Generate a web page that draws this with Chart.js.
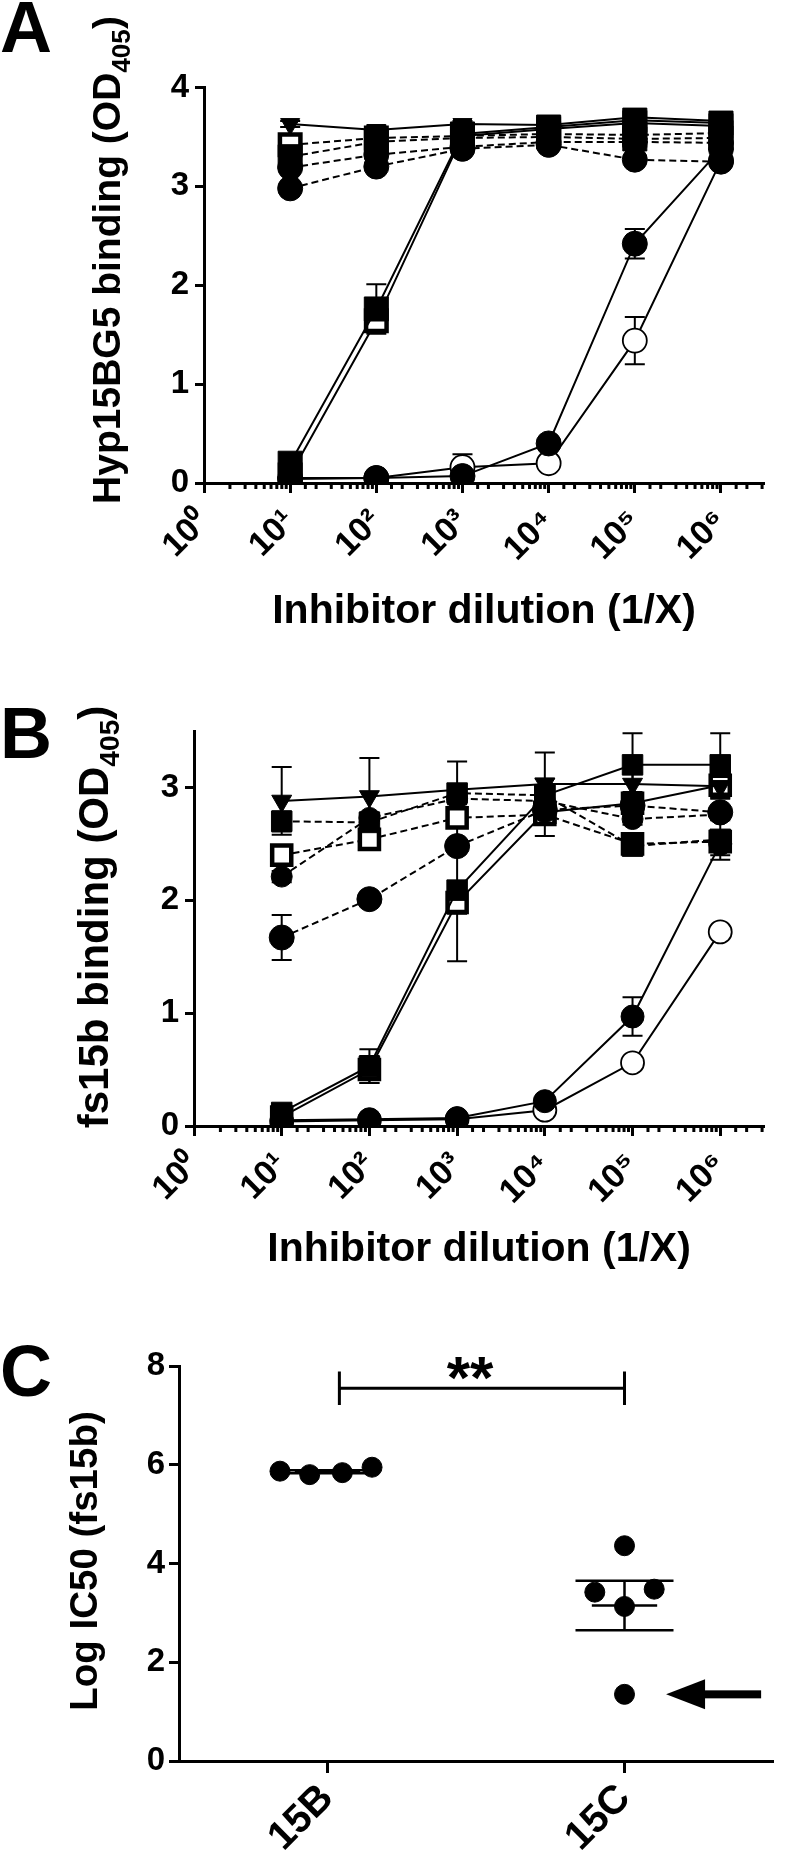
<!DOCTYPE html>
<html lang="en">
<head>
<meta charset="utf-8">
<title>Inhibition of Hyp15BG5 and fs15b binding</title>
<script src="https://cdn.jsdelivr.net/npm/chart.js@4.4.1/dist/chart.umd.min.js"></script>
<style>
  html, body { margin: 0; padding: 0; background: #fff; }
  body { position: relative; width: 800px; height: 1859px; overflow: hidden; }
  canvas { position: absolute; left: 0; }
  #chart-a { top: 0; }
  #chart-b { top: 660px; }
  #chart-c { top: 1290px; }
</style>
</head>
<body>
<canvas id="chart-a" width="800" height="660"></canvas>
<canvas id="chart-b" width="800" height="630"></canvas>
<canvas id="chart-c" width="800" height="569"></canvas>
<script>
// Three panels: A and B are inhibition curves on a log dilution axis,
// C is a dot plot of log IC50 per group.

const FONT = '"Liberation Sans", Arial, Helvetica, sans-serif';

// ── Data ────────────────────────────────────────────────────────────────────
const DILUTIONS     = [10, 100, 1000, 10000, 100000, 1000000];
const DECADE_LABELS = ['10\u2070', '10\u00b9', '10\u00b2', '10\u00b3', '10\u2074', '10\u2075', '10\u2076'];
const X_MAX         = 3162278; // 10^6.5, end of the dilution axis

// Panel A: Hyp15BG5 binding (OD405), mean ± SEM
const A_TRI      = [3.63, 3.57, 3.63, 3.62, 3.70, 3.66];
const A_TRI_ERR  = [0.03, 0.04, 0.03, 0.04, 0.04, 0.04];
const A_SQF      = [0.20, 1.76, 3.53, 3.60, 3.67, 3.64];
const A_SQF_ERR  = [0.06, 0.25, 0.04, 0.04, 0.04, 0.04];
const A_SQO      = [0.08, 1.64, 3.51, 3.58, 3.64, 3.61];
const A_SQO_ERR  = [0.04, 0.11, 0.04, 0.04, 0.04, 0.04];
const A_CIF      = [0.05, 0.05, 0.07, 0.40, 2.42, 3.38];
const A_CIF_ERR  = [0.01, 0.01, 0.02, 0.04, 0.15, 0.05];
const A_CIO      = [0.04, 0.05, 0.16, 0.20, 1.44, 3.26];
const A_CIO_ERR  = [0.01, 0.01, 0.13, 0.03, 0.24, 0.05];
const A_DSQO     = [3.42, 3.49, 3.51, 3.53, 3.52, 3.54];
const A_DSQF     = [3.30, 3.45, 3.49, 3.50, 3.48, 3.49];
const A_DCI1     = [3.19, 3.32, 3.40, 3.45, 3.45, 3.44];
const A_DCI2     = [2.98, 3.20, 3.38, 3.42, 3.27, 3.25];
const A_DASH_ERR = [0.03, 0.03, 0.03, 0.03, 0.03, 0.03];

// Panel B: fs15b binding (OD405), mean ± SEM
const B_TRI      = [2.88, 2.92, 2.98, 3.03, 3.03, 3.01];
const B_TRI_ERR  = [0.30, 0.34, 0.25, 0.28, 0.10, 0.10];
const B_SQF      = [0.12, 0.53, 2.09, 2.93, 3.20, 3.20];
const B_SQF_ERR  = [0.04, 0.15, 0.63, 0.15, 0.28, 0.28];
const B_SQO      = [0.08, 0.50, 1.98, 2.78, 2.86, 3.02];
const B_SQO_ERR  = [0.03, 0.12, 0.10, 0.21, 0.10, 0.12];
const B_CIF      = [0.05, 0.06, 0.07, 0.22, 0.97, 2.50];
const B_CIF_ERR  = [0.01, 0.01, 0.01, 0.03, 0.17, 0.10];
const B_CIO      = [0.04, 0.05, 0.06, 0.14, 0.56, 1.72];
const B_CIO_ERR  = [0.01, 0.01, 0.01, 0.01, 0.02, 0.03];
const B_DSQF     = [2.70, 2.69, 2.95, 2.93, 2.48, 2.54];
const B_DSQF_ERR = [0.09, 0.05, 0.05, 0.05, 0.05, 0.18];
const B_DCIS     = [2.21, 2.73, 2.90, 2.88, 2.72, 2.76];
const B_DCIS_ERR = [0.05, 0.05, 0.05, 0.05, 0.05, 0.05];
const B_DSQO     = [2.40, 2.54, 2.73, 2.76, 2.50, 2.52];
const B_DSQO_ERR = [0.05, 0.05, 0.05, 0.05, 0.05, 0.05];
const B_DCIL     = [1.67, 2.01, 2.48, 2.80, 2.84, 2.78];
const B_DCIL_ERR = [0.20, 0.05, 0.05, 0.05, 0.05, 0.05];

// Panel C: log IC50 (fs15b) per group
const C_GROUPS  = ['15B', '15C'];
const C_15B_POS = [0.84, 0.94, 1.05, 1.15];
const C_15B     = [5.87, 5.80, 5.84, 5.95];
const C_15C_POS = [2.00, 1.90, 2.10, 2.00, 2.00];
const C_15C     = [4.36, 3.42, 3.48, 3.13, 1.35];
const C_MEAN    = [5.86, 3.15];
const C_SEM     = [0.03, 0.50];
const C_SIG     = { from: 1.04, to: 2.0, y: 7.55, drop: 0.34, text: '**', at: 1.48 };
const C_ARROW   = { y: 1.35, tail: 2.46, tip: 2.14 };

// ── Marker styles ───────────────────────────────────────────────────────────
const MARKS = {
  tri: { style: 'triangle', rotation: 180, fill: '#000', bw: 1 },
  sqF: { style: 'rect',     rotation: 0,   fill: '#000', bw: 1 },
  sqO: { style: 'rect',     rotation: 0,   fill: '#fff', bw: 4.5 },
  ciF: { style: 'circle',   rotation: 0,   fill: '#000', bw: 1 },
  ciO: { style: 'circle',   rotation: 0,   fill: '#fff', bw: 1.8 }
};

function isDecade(v) {
  const e = Math.round(Math.log10(v));
  return Math.abs(v - Math.pow(10, e)) < v * 1e-6;
}

function curveDataset(values, errors, mark, radius, dashed) {
  const m = MARKS[mark];
  return {
    data: values.map((v, i) => ({ x: DILUTIONS[i], y: v })),
    errorBars: errors,
    borderColor: '#000',
    borderWidth: 2,
    borderDash: dashed ? [7, 4] : [],
    pointStyle: m.style,
    rotation: m.rotation,
    pointRadius: radius,
    pointBackgroundColor: m.fill,
    pointBorderColor: '#000',
    pointBorderWidth: m.bw,
    tension: 0,
    fill: false
  };
}

// ── Plugins ─────────────────────────────────────────────────────────────────

const errorBarPlugin = {
  id: 'errorBars',
  beforeDatasetsDraw(chart) {
    const ctx = chart.ctx, y = chart.scales.y;
    ctx.save();
    ctx.strokeStyle = '#000';
    ctx.lineWidth = 2;
    chart.data.datasets.forEach((ds, di) => {
      if (!ds.errorBars) return;
      chart.getDatasetMeta(di).data.forEach((pt, i) => {
        const e = ds.errorBars[i];
        if (!e) return;
        const v = ds.data[i].y;
        const top = y.getPixelForValue(v + e);
        const bot = y.getPixelForValue(v - e);
        ctx.beginPath();
        ctx.moveTo(pt.x, top); ctx.lineTo(pt.x, bot);
        ctx.moveTo(pt.x - 10, top); ctx.lineTo(pt.x + 10, top);
        ctx.moveTo(pt.x - 10, bot); ctx.lineTo(pt.x + 10, bot);
        ctx.stroke();
      });
    });
    ctx.restore();
  }
};

// short marks for the non-decade ticks of the log axis
const minorTickPlugin = {
  id: 'minorTicks',
  afterDraw(chart) {
    const x = chart.scales.x;
    if (x.type !== 'logarithmic') return;
    const ctx = chart.ctx;
    ctx.save();
    ctx.strokeStyle = '#000';
    ctx.lineWidth = 3;
    ctx.beginPath();
    x.ticks.forEach(t => {
      if (isDecade(t.value)) return;
      const px = x.getPixelForValue(t.value);
      ctx.moveTo(px, x.top); ctx.lineTo(px, x.top + 6);
    });
    ctx.stroke();
    ctx.restore();
  }
};

// panel letter and the rotated y title (with subscript parts)
const panelTextPlugin = {
  id: 'panelText',
  afterDraw(chart, args, o) {
    const ctx = chart.ctx;
    ctx.save();
    ctx.fillStyle = '#000';
    ctx.textAlign = 'left';
    ctx.textBaseline = 'alphabetic';
    ctx.font = 'bold ' + o.letterSize + 'px ' + FONT;
    ctx.fillText(o.letter, o.letterX, o.letterY);

    ctx.translate(o.titleX, o.titleY);
    ctx.rotate(-Math.PI / 2);
    const fontFor = p => 'bold ' + (p.sub ? o.titleSize * 0.67 : o.titleSize) + 'px ' + FONT;
    let total = 0;
    o.title.forEach(p => { ctx.font = fontFor(p); total += ctx.measureText(p.text).width; });
    let pos = -total / 2;
    o.title.forEach(p => {
      ctx.font = fontFor(p);
      ctx.fillText(p.text, pos, p.sub ? o.titleSize * 0.25 : 0);
      pos += ctx.measureText(p.text).width;
    });
    ctx.restore();
  }
};

// mean ± SEM, significance bracket and arrow for panel C
const groupStatsPlugin = {
  id: 'groupStats',
  beforeDatasetsDraw(chart) {
    const { ctx, scales: { x, y } } = chart;
    const hline = (val, c, half) => {
      ctx.moveTo(x.getPixelForValue(c - half), y.getPixelForValue(val));
      ctx.lineTo(x.getPixelForValue(c + half), y.getPixelForValue(val));
    };
    ctx.save();
    ctx.strokeStyle = '#000';
    ctx.lineWidth = 2.5;
    ctx.beginPath();
    C_MEAN.forEach((m, i) => {
      const c = i + 1;
      hline(m, c, 0.11);
      hline(m + C_SEM[i], c, 0.165);
      hline(m - C_SEM[i], c, 0.165);
      ctx.moveTo(x.getPixelForValue(c), y.getPixelForValue(m + C_SEM[i]));
      ctx.lineTo(x.getPixelForValue(c), y.getPixelForValue(m - C_SEM[i]));
    });
    ctx.stroke();
    ctx.restore();
  },
  afterDatasetsDraw(chart) {
    const { ctx, scales: { x, y } } = chart;
    ctx.save();
    ctx.strokeStyle = '#000';
    ctx.fillStyle = '#000';
    ctx.lineWidth = 3;
    // bracket
    const x0 = x.getPixelForValue(C_SIG.from), x1 = x.getPixelForValue(C_SIG.to);
    const yb = y.getPixelForValue(C_SIG.y);
    const yt = y.getPixelForValue(C_SIG.y + C_SIG.drop);
    const yd = y.getPixelForValue(C_SIG.y - C_SIG.drop);
    ctx.beginPath();
    ctx.moveTo(x0, yb); ctx.lineTo(x1, yb);
    ctx.moveTo(x0, yt); ctx.lineTo(x0, yd);
    ctx.moveTo(x1, yt); ctx.lineTo(x1, yd);
    ctx.stroke();
    ctx.font = 'bold 60px ' + FONT;
    ctx.textAlign = 'center';
    ctx.textBaseline = 'alphabetic';
    ctx.fillText(C_SIG.text, x.getPixelForValue(C_SIG.at), yb + 10);
    // arrow
    const ay = y.getPixelForValue(C_ARROW.y);
    const tip = x.getPixelForValue(C_ARROW.tip), tail = x.getPixelForValue(C_ARROW.tail);
    ctx.fillRect(tip + 30, ay - 4, tail - tip - 30, 8);
    ctx.beginPath();
    ctx.moveTo(tip, ay);
    ctx.lineTo(tip + 39, ay - 15);
    ctx.lineTo(tip + 39, ay + 15);
    ctx.closePath();
    ctx.fill();
    ctx.restore();
  }
};

// ── Charts ──────────────────────────────────────────────────────────────────

Chart.defaults.color = '#000';
Chart.defaults.font.family = FONT;
Chart.defaults.font.weight = 'bold';

function curveChart(canvasId, datasets, cfg) {
  return new Chart(document.getElementById(canvasId), {
    type: 'line',
    data: { datasets: datasets },
    options: {
      responsive: false,
      animation: false,
      layout: { padding: { left: 0, right: cfg.padRight, top: cfg.top, bottom: 0 } },
      plugins: {
        legend: { display: false },
        tooltip: { enabled: false },
        panelText: cfg.text
      },
      scales: {
        x: {
          type: 'logarithmic',
          min: 1,
          max: X_MAX,
          afterBuildTicks: s => { s.ticks = s.ticks.filter(t => Math.abs(t.value - Math.round(t.value)) < 1e-6 && t.value < X_MAX); },
          afterFit: s => { s.height = cfg.xHeight; },
          border: { display: true, color: '#000', width: 3 },
          grid: {
            drawOnChartArea: false, drawTicks: true, tickLength: 10, tickWidth: 3,
            tickColor: c => (c.tick && isDecade(c.tick.value)) ? '#000' : 'rgba(0,0,0,0)'
          },
          ticks: {
            autoSkip: false, minRotation: 45, maxRotation: 45, padding: 9,
            font: { size: 34, weight: 'bold' },
            callback: v => isDecade(v) ? DECADE_LABELS[Math.round(Math.log10(v))] : ''
          },
          title: {
            display: true, text: 'Inhibitor dilution (1/X)', color: '#000',
            font: { size: 41, weight: 'bold' }, padding: { top: 0, bottom: cfg.xTitlePad }
          }
        },
        y: {
          min: 0,
          max: cfg.yMax,
          afterBuildTicks: s => { s.ticks = s.ticks.filter(t => Number.isInteger(t.value)); },
          afterFit: s => { s.width = cfg.yWidth; },
          border: { display: true, color: '#000', width: 3 },
          grid: { drawOnChartArea: false, drawTicks: true, tickLength: 9, tickWidth: 3, tickColor: '#000' },
          ticks: { stepSize: 1, padding: 6, font: { size: 33, weight: 'bold' } }
        }
      }
    },
    plugins: [errorBarPlugin, minorTickPlugin, panelTextPlugin]
  });
}

// earlier datasets are drawn on top, so open markers come last
curveChart('chart-a', [
  curveDataset(A_TRI, A_TRI_ERR, 'tri', 11, false),
  curveDataset(A_SQF, A_SQF_ERR, 'sqF', 17, false),
  curveDataset(A_CIF, A_CIF_ERR, 'ciF', 12.5, false),
  curveDataset(A_DSQF, A_DASH_ERR, 'sqF', 17, true),
  curveDataset(A_DCI1, A_DASH_ERR, 'ciF', 12.5, true),
  curveDataset(A_DCI2, A_DASH_ERR, 'ciF', 12.5, true),
  curveDataset(A_DSQO, A_DASH_ERR, 'sqO', 14.5, true),
  curveDataset(A_SQO, A_SQO_ERR, 'sqO', 14.5, false),
  curveDataset(A_CIO, A_CIO_ERR, 'ciO', 12, false)
], {
  top: 87.5, padRight: 0, yWidth: 204, xHeight: 177, xTitlePad: 24, yMax: 4,
  text: {
    letter: 'A', letterX: 0, letterY: 52, letterSize: 72,
    titleX: 120, titleY: 260, titleSize: 39,
    title: [{ text: 'Hyp15BG5 binding (OD' }, { text: '405', sub: true }, { text: ')' }]
  }
});

curveChart('chart-b', [
  curveDataset(B_TRI, B_TRI_ERR, 'tri', 11.5, false),
  curveDataset(B_SQF, B_SQF_ERR, 'sqF', 14.5, false),
  curveDataset(B_CIF, B_CIF_ERR, 'ciF', 11.5, false),
  curveDataset(B_DSQF, B_DSQF_ERR, 'sqF', 14.5, true),
  curveDataset(B_DCIS, B_DCIS_ERR, 'ciF', 10.5, true),
  curveDataset(B_DCIL, B_DCIL_ERR, 'ciF', 12.5, true),
  curveDataset(B_DSQO, B_DSQO_ERR, 'sqO', 13.5, true),
  curveDataset(B_SQO, B_SQO_ERR, 'sqO', 13.5, false),
  curveDataset(B_CIO, B_CIO_ERR, 'ciO', 11.5, false)
], {
  top: 71, padRight: 9, yWidth: 194, xHeight: 164, xTitlePad: 16, yMax: 3.5,
  text: {
    letter: 'B', letterX: 0, letterY: 98, letterSize: 72,
    titleX: 108, titleY: 257, titleSize: 42,
    title: [{ text: 'fs15b binding (OD' }, { text: '405', sub: true }, { text: ')' }]
  }
});

new Chart(document.getElementById('chart-c'), {
  type: 'scatter',
  data: {
    datasets: [
      { data: C_15B.map((v, i) => ({ x: C_15B_POS[i], y: v })) },
      { data: C_15C.map((v, i) => ({ x: C_15C_POS[i], y: v })) }
    ].map(ds => Object.assign(ds, {
      pointStyle: 'circle', pointRadius: 10, pointBackgroundColor: '#000',
      pointBorderColor: '#000', pointBorderWidth: 1, showLine: false
    }))
  },
  options: {
    responsive: false,
    animation: false,
    layout: { padding: { left: 0, right: 27, top: 76, bottom: 0 } },
    plugins: {
      legend: { display: false },
      tooltip: { enabled: false },
      panelText: {
        letter: 'C', letterX: 0, letterY: 106, letterSize: 72,
        titleX: 97, titleY: 271, titleSize: 38.5,
        title: [{ text: 'Log IC50 (fs15b)' }]
      }
    },
    scales: {
      x: {
        type: 'linear',
        min: 0.5,
        max: 2.5,
        afterBuildTicks: s => { s.ticks = C_GROUPS.map((g, i) => ({ value: i + 1 })); },
        afterFit: s => { s.height = 98; },
        border: { display: true, color: '#000', width: 3 },
        grid: { drawOnChartArea: false, drawTicks: true, tickLength: 12, tickWidth: 3, tickColor: '#000' },
        ticks: {
          autoSkip: false, minRotation: 45, maxRotation: 45, padding: 2,
          font: { size: 40, weight: 'bold' },
          callback: v => C_GROUPS[Math.round(v) - 1]
        }
      },
      y: {
        min: 0,
        max: 8,
        afterFit: s => { s.width = 179; },
        border: { display: true, color: '#000', width: 3 },
        grid: { drawOnChartArea: false, drawTicks: true, tickLength: 10, tickWidth: 3, tickColor: '#000' },
        ticks: { stepSize: 2, padding: 4, font: { size: 33, weight: 'bold' } }
      }
    }
  },
  plugins: [groupStatsPlugin, panelTextPlugin]
});
</script>
</body>
</html>
